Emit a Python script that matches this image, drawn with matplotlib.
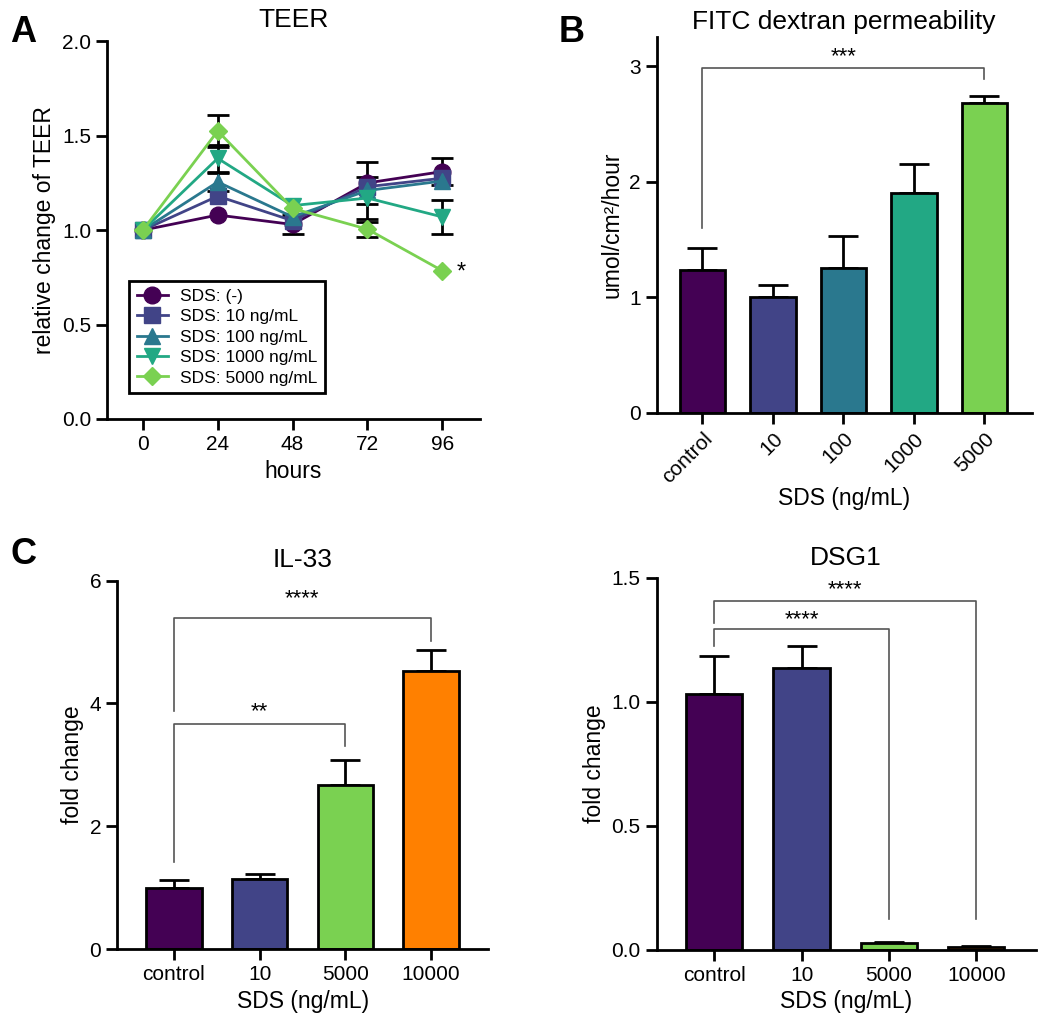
import matplotlib.pyplot as plt
import numpy as np

plt.rcParams['font.family'] = ['Liberation Sans', 'DejaVu Sans']

# ---- data ----
hours = [0, 24, 48, 72, 96]
teer_labels = ['SDS: (-)', 'SDS: 10 ng/mL', 'SDS: 100 ng/mL', 'SDS: 1000 ng/mL', 'SDS: 5000 ng/mL']
teer_ctrl = [1.0, 1.08, 1.03, 1.25, 1.31]
teer_10 = [1.0, 1.18, 1.05, 1.23, 1.275]
teer_100 = [1.0, 1.255, 1.07, 1.21, 1.26]
teer_1000 = [1.0, 1.38, 1.13, 1.17, 1.07]
teer_5000 = [1.0, 1.525, 1.115, 1.005, 0.785]
teer_err_ctrl = [0.0, 0.0, 0.05, 0.11, 0.07]
teer_err_10 = [0.0, 0.0, 0.0, 0.0, 0.0]
teer_err_100 = [0.0, 0.05, 0.0, 0.0, 0.0]
teer_err_1000 = [0.0, 0.07, 0.0, 0.11, 0.09]
teer_err_5000 = [0.0, 0.085, 0.0, 0.04, 0.0]

fitc_cats = ['control', '10', '100', '1000', '5000']
fitc_vals = [1.234, 1.003, 1.254, 1.906, 2.685]
fitc_err = [0.19, 0.10, 0.28, 0.245, 0.055]

il33_cats = ['control', '10', '5000', '10000']
il33_vals = [1.0, 1.14, 2.67, 4.53]
il33_err = [0.12, 0.08, 0.41, 0.335]

dsg1_cats = ['control', '10', '5000', '10000']
dsg1_vals = [1.03, 1.137, 0.027, 0.011]
dsg1_err = [0.155, 0.088, 0.004, 0.003]

viridis5 = ['#440154', '#414487', '#2A788E', '#22A884', '#7AD151']
four_cols = ['#440154', '#414487', '#7AD151', '#FF8000']

fig = plt.figure(figsize=(10.5, 10.32), dpi=100)
axA = fig.add_axes([0.1019, 0.594, 0.355, 0.366])
axB = fig.add_axes([0.6254, 0.600, 0.3572, 0.3639])
axC = fig.add_axes([0.1117, 0.0804, 0.3531, 0.3569])
axD = fig.add_axes([0.6254, 0.0795, 0.361, 0.3607])


def style(ax):
    for s in ['top', 'right']:
        ax.spines[s].set_visible(False)
    for s in ['left', 'bottom']:
        ax.spines[s].set_linewidth(2)
    ax.tick_params(width=2, length=8, labelsize=15, color='black')


# ---- A: TEER ----
series = [teer_ctrl, teer_10, teer_100, teer_1000, teer_5000]
errs = [teer_err_ctrl, teer_err_10, teer_err_100, teer_err_1000, teer_err_5000]
markers = ['o', 's', '^', 'v', 'D']
msizes = [12, 11, 11, 11, 9]
for vals, e, col, mk, ms, lab in zip(series, errs, viridis5, markers, msizes, teer_labels):
    idx = [i for i in range(len(e)) if e[i] > 0]
    if idx:
        axA.errorbar([hours[i] for i in idx], [vals[i] for i in idx],
                     yerr=[e[i] for i in idx], fmt='none', ecolor='black',
                     elinewidth=2, capsize=8, capthick=2, zorder=2)
    axA.plot(hours, vals, color=col, lw=2, marker=mk, ms=ms, mfc=col, mec=col,
             label=lab, zorder=3)
axA.text(102, 0.775, '*', fontsize=17, ha='center', va='center')
axA.set_xlim(-11.5, 108)
axA.set_ylim(0, 2.0)
axA.set_xticks(hours)
axA.set_yticks([0, 0.5, 1.0, 1.5, 2.0])
axA.set_yticklabels(['0.0', '0.5', '1.0', '1.5', '2.0'])
axA.set_xlabel('hours', fontsize=16.5)
axA.set_ylabel('relative change of TEER', fontsize=16.5)
axA.set_title('TEER', fontsize=19, pad=10)
style(axA)
leg = axA.legend(loc='lower left', bbox_to_anchor=(0.035, 0.045), fontsize=12.5,
                 fancybox=False, edgecolor='black', framealpha=1, handlelength=1.8,
                 borderpad=0.45, labelspacing=0.3, handletextpad=0.7)
leg.get_frame().set_linewidth(2)


def bar_panel(ax, cats, vals, err, cols, xlim):
    x = np.arange(len(cats))
    ax.bar(x, vals, width=0.645, color=cols, edgecolor='black', linewidth=2, zorder=2)
    ax.errorbar(x, vals, yerr=[np.zeros(len(vals)), err], fmt='none', ecolor='black',
                elinewidth=2, capsize=11, capthick=2, zorder=1)
    ax.set_xticks(x)
    ax.set_xticklabels(cats)
    ax.set_xlim(*xlim)
    style(ax)


def bracket(ax, x1, x2, y, yl, yr, txt, ty):
    ax.plot([x1, x1, x2, x2], [yl, y, y, yr], color='#555555', lw=1.2, zorder=3)
    ax.text((x1 + x2) / 2, ty, txt, fontsize=16, ha='center', va='center')


# ---- B: FITC ----
bar_panel(axB, fitc_cats, fitc_vals, fitc_err, viridis5, (-0.65, 4.67))
axB.set_ylim(0, 3.25)
axB.set_yticks([0, 1, 2, 3])
plt.setp(axB.get_xticklabels(), rotation=45, ha='right', rotation_mode='anchor')
axB.set_xlabel('SDS (ng/mL)', fontsize=16.5, labelpad=0)
axB.set_ylabel('umol/cm²/hour', fontsize=16.5)
axB.set_title('FITC dextran permeability', fontsize=19, pad=6)
bracket(axB, 0, 4, 2.985, 1.595, 2.89, '***', 3.08)

# ---- C: IL-33 ----
bar_panel(axC, il33_cats, il33_vals, il33_err, four_cols, (-0.66, 3.665))
axC.set_ylim(0, 6)
axC.set_yticks([0, 2, 4, 6])
axC.set_xlabel('SDS (ng/mL)', fontsize=16.5)
axC.set_ylabel('fold change', fontsize=16.5)
axC.set_title('IL-33', fontsize=19, pad=10)
bracket(axC, 0, 3, 5.39, 3.88, 5.02, '****', 5.70)
bracket(axC, 0, 2, 3.66, 1.42, 3.31, '**', 3.87)

# ---- D: DSG1 ----
bar_panel(axD, dsg1_cats, dsg1_vals, dsg1_err, four_cols, (-0.66, 3.68))
axD.set_ylim(0, 1.5)
axD.set_yticks([0, 0.5, 1.0, 1.5])
axD.set_yticklabels(['0.0', '0.5', '1.0', '1.5'])
axD.set_xlabel('SDS (ng/mL)', fontsize=16.5)
axD.set_ylabel('fold change', fontsize=16.5)
axD.set_title('DSG1', fontsize=19, pad=9)
bracket(axD, 0, 3, 1.407, 1.316, 0.124, '****', 1.452)
bracket(axD, 0, 2, 1.292, 1.225, 0.124, '****', 1.330)

# panel letters
fig.text(0.01, 0.985, 'A', fontsize=26, fontweight='bold', va='top')
fig.text(0.532, 0.985, 'B', fontsize=26, fontweight='bold', va='top')
fig.text(0.01, 0.48, 'C', fontsize=26, fontweight='bold', va='top')

fig.savefig('out.png', dpi=100)
